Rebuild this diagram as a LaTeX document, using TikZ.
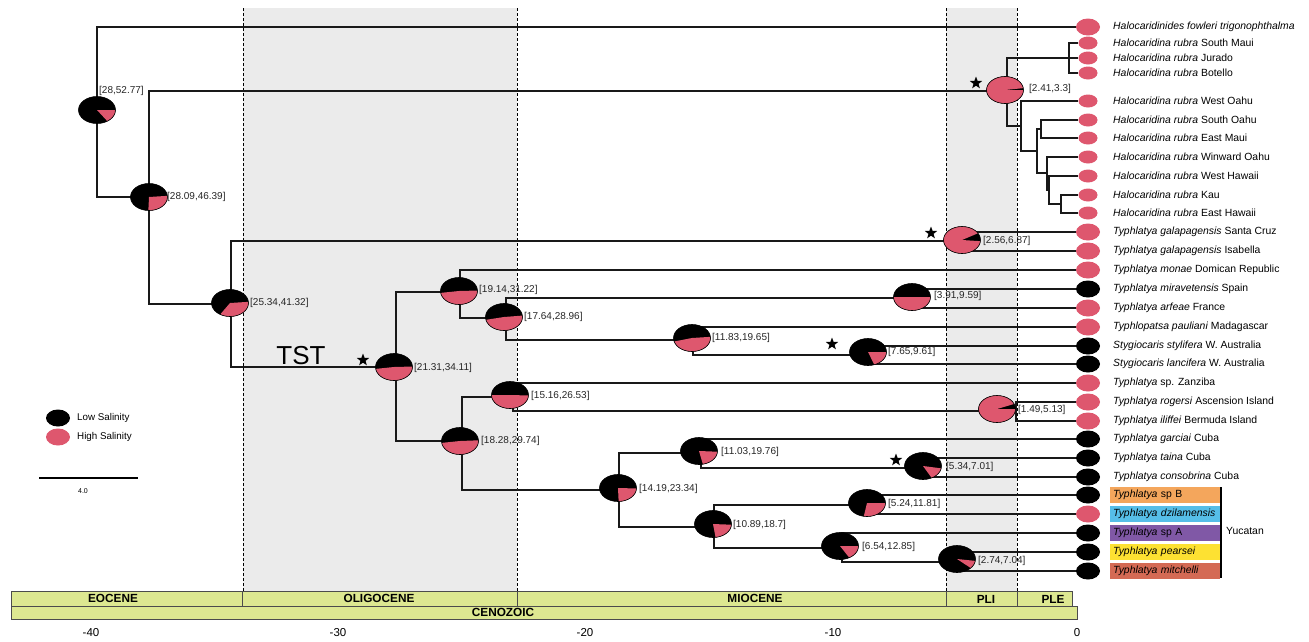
\documentclass[tikz,border=0pt]{standalone}
\usepackage{fontspec}
\setmainfont{Liberation Sans}
\usetikzlibrary{shapes.geometric}
\definecolor{hpink}{RGB}{222,87,110}
\definecolor{bandgray}{RGB}{235,235,235}
\definecolor{baryellow}{RGB}{221,232,145}
\definecolor{colspB}{RGB}{244,166,92}
\definecolor{coldzil}{RGB}{86,190,232}
\definecolor{colspA}{RGB}{128,88,166}
\definecolor{colpear}{RGB}{253,225,50}
\definecolor{colmitch}{RGB}{212,106,84}
\tikzset{
  edge/.style={line width=1.3pt, draw=black!90},
  tipP/.style={ellipse, fill=hpink, minimum width=24pt, minimum height=17pt, inner sep=0pt},
  tipB/.style={ellipse, fill=black, minimum width=24pt, minimum height=17pt, inner sep=0pt},
  tipS/.style={ellipse, fill=hpink, minimum width=19pt, minimum height=13pt, inner sep=0pt},
  tiplab/.style={anchor=west, inner sep=0pt, font=\fontsize{10.4}{12}\selectfont},
  ybox/.style={tiplab, text width=104pt, inner xsep=3pt, inner ysep=0pt, minimum height=15.5pt, align=left},
  nlab/.style={anchor=west, inner sep=0pt, font=\fontsize{10}{12}\selectfont, text=black!85},
  starmark/.style={star, star points=5, star point ratio=2.4, fill=black, inner sep=0pt, minimum size=13pt},
  boundary/.style={dash pattern=on 3pt off 2pt, line width=0.6pt},
  epoch/.style={draw=black!70, fill=baryellow, line width=0.7pt},
  epochtxt/.style={font=\fontsize{11.8}{13}\selectfont\bfseries, inner sep=0pt},
  axlab/.style={font=\fontsize{11.5}{13}\selectfont, inner sep=0pt},
  leglab/.style={anchor=west, inner sep=0pt, font=\fontsize{9.8}{12}\selectfont}
}
\newcommand\salpie[4]{%
  \fill[black] (#1,#2) ellipse [x radius=18.5, y radius=13.5];
  \fill[hpink] (#1,#2) -- ++({-(#3)}:18.5 and 13.5) arc [start angle={-(#3)}, end angle={-(#4)}, x radius=18.5, y radius=13.5] -- cycle;
  \draw[line width=0.6pt] (#1,#2) ellipse [x radius=18.5, y radius=13.5];
}
\begin{document}
\begin{tikzpicture}[x=1pt, y=-1pt]
\useasboundingbox (0,0) rectangle (1309,641);
% bands
\fill[bandgray] (243,8) rectangle (517,591);
\fill[bandgray] (946,8) rectangle (1017,591);
\foreach \bx in {243,517,946,1017} \draw[boundary] (\bx,8) -- (\bx,591);
% time scale
\draw[epoch] (11,591) rectangle (242,606);
\draw[epoch] (242,591) rectangle (517,606);
\draw[epoch] (517,591) rectangle (946,606);
\draw[epoch] (946,591) rectangle (1017,606);
\draw[epoch] (1017,591) rectangle (1072,606);
\draw[epoch] (11,606) rectangle (1077,619);
\node[epochtxt] (eoc) at (113,598.5) {EOCENE};
\node[epochtxt] (oli) at (379,598.5) {OLIGOCENE};
\node[epochtxt] (mio) at (755,598.5) {MIOCENE};
\node[epochtxt] (pli) at (986,599) {PLI};
\node[epochtxt] (ple) at (1053,599) {PLE};
\node[epochtxt] (cen) at (503,612.5) {CENOZOIC};
\node[axlab] (a40) at (91,633) {-40};
\node[axlab] (a30) at (338,633) {-30};
\node[axlab] (a20) at (585,633) {-20};
\node[axlab] (a10) at (833,633) {-10};
\node[axlab] (a0) at (1077,633) {0};
% tips
\node[tipP] (t1) at (1088,27) {};
\node[tipS] (t2) at (1088,43) {};
\node[tipS] (t3) at (1088,58) {};
\node[tipS] (t4) at (1088,73) {};
\node[tipS] (t5) at (1088,101) {};
\node[tipS] (t6) at (1088,120) {};
\node[tipS] (t7) at (1088,138) {};
\node[tipS] (t8) at (1088,157) {};
\node[tipS] (t9) at (1088,176) {};
\node[tipS] (t10) at (1088,195) {};
\node[tipS] (t11) at (1088,213) {};
\node[tipP] (t12) at (1088,232) {};
\node[tipP] (t13) at (1088,251) {};
\node[tipP] (t14) at (1088,270) {};
\node[tipB] (t15) at (1088,289) {};
\node[tipP] (t16) at (1088,308) {};
\node[tipP] (t17) at (1088,327) {};
\node[tipB] (t18) at (1088,346) {};
\node[tipB] (t19) at (1088,364) {};
\node[tipP] (t20) at (1088,383) {};
\node[tipP] (t21) at (1088,402) {};
\node[tipP] (t22) at (1088,421) {};
\node[tipB] (t23) at (1088,439) {};
\node[tipB] (t24) at (1088,458) {};
\node[tipB] (t25) at (1088,477) {};
\node[tipB] (t26) at (1088,495) {};
\node[tipP] (t27) at (1088,514) {};
\node[tipB] (t28) at (1088,533) {};
\node[tipB] (t29) at (1088,552) {};
\node[tipB] (t30) at (1088,571) {};
% internal joints
\coordinate (root) at (97,110);
\coordinate (n2) at (149,197);
\coordinate (n3) at (231,304);
\coordinate (gal) at (962,241);
\coordinate (n4) at (396,367);
\coordinate (n5) at (460,292);
\coordinate (n6) at (506,318);
\coordinate (n7) at (912,298);
\coordinate (n8) at (693,340);
\coordinate (n9) at (868,355);
\coordinate (n10) at (462,441);
\coordinate (n11) at (513,397);
\coordinate (n13) at (1016,411);
\coordinate (n12) at (619,490);
\coordinate (n14) at (701,453);
\coordinate (n16) at (923,468);
\coordinate (n15) at (714,527);
\coordinate (n17) at (867,505);
\coordinate (n18) at (842,548);
\coordinate (n19) at (957,562);
\coordinate (h0) at (1007,91);
\coordinate (hA) at (1069,58);
\coordinate (hB) at (1021,126);
\coordinate (hC) at (1037,151);
\coordinate (hD) at (1041,129);
\coordinate (hE) at (1047,173);
\coordinate (hF) at (1049,190);
\coordinate (hG) at (1061,204);
% edges
\draw[edge] (root) |- (t1.west);
\draw[edge] (root) |- (n2);
\draw[edge] (n2) |- (h0);
\draw[edge] (n2) |- (n3);
\draw[edge] (h0) |- (hA);
\draw[edge] (h0) |- (hB);
\draw[edge] (hA) |- (t2.west);
\draw[edge] (hA) |- (t3.west);
\draw[edge] (hA) |- (t4.west);
\draw[edge] (hB) |- (t5.west);
\draw[edge] (hB) |- (hC);
\draw[edge] (hC) |- (hD);
\draw[edge] (hC) |- (hE);
\draw[edge] (hD) |- (t6.west);
\draw[edge] (hD) |- (t7.west);
\draw[edge] (hE) |- (t8.west);
\draw[edge] (hE) |- (hF);
\draw[edge] (hF) |- (t9.west);
\draw[edge] (hF) |- (hG);
\draw[edge] (hG) |- (t10.west);
\draw[edge] (hG) |- (t11.west);
\draw[edge] (n3) |- (gal);
\draw[edge] (n3) |- (n4);
\draw[edge] (gal) |- (t12.west);
\draw[edge] (gal) |- (t13.west);
\draw[edge] (n4) |- (n5);
\draw[edge] (n4) |- (n10);
\draw[edge] (n5) |- (t14.west);
\draw[edge] (n5) |- (n6);
\draw[edge] (n6) |- (n7);
\draw[edge] (n6) |- (n8);
\draw[edge] (n7) |- (t15.west);
\draw[edge] (n7) |- (t16.west);
\draw[edge] (n8) |- (t17.west);
\draw[edge] (n8) |- (n9);
\draw[edge] (n9) |- (t18.west);
\draw[edge] (n9) |- (t19.west);
\draw[edge] (n10) |- (n11);
\draw[edge] (n10) |- (n12);
\draw[edge] (n11) |- (t20.west);
\draw[edge] (n11) |- (n13);
\draw[edge] (n13) |- (t21.west);
\draw[edge] (n13) |- (t22.west);
\draw[edge] (n12) |- (n14);
\draw[edge] (n12) |- (n15);
\draw[edge] (n14) |- (t23.west);
\draw[edge] (n14) |- (n16);
\draw[edge] (n16) |- (t24.west);
\draw[edge] (n16) |- (t25.west);
\draw[edge] (n15) |- (n17);
\draw[edge] (n15) |- (n18);
\draw[edge] (n17) |- (t26.west);
\draw[edge] (n17) |- (t27.west);
\draw[edge] (n18) |- (t28.west);
\draw[edge] (n18) |- (n19);
\draw[edge] (n19) |- (t29.west);
\draw[edge] (n19) |- (t30.west);
% pies
\salpie{97}{110}{0}{-56}
\salpie{149}{197}{5}{-92}
\salpie{230}{303}{5}{-122}
\salpie{394}{367}{2}{-172}
\salpie{459}{291}{2}{-172}
\salpie{504}{317}{6}{-168}
\salpie{912}{297}{0}{-180}
\salpie{692}{338}{5}{-165}
\salpie{868}{352}{0}{-70}
\salpie{460}{441}{3}{-172}
\salpie{510}{395}{-2}{-180}
\salpie{618}{488}{-2}{-88}
\salpie{997}{409}{0}{-338}
\salpie{699}{451}{-3}{-78}
\salpie{713}{524}{-3}{-82}
\salpie{923}{466}{-10}{-62}
\salpie{867}{503}{0}{-100}
\salpie{840}{546}{0}{-60}
\salpie{957}{559}{-8}{-42}
\salpie{1005}{90}{0}{-352}
\salpie{962}{240}{-5}{-330}
% node labels
\node[nlab] (L1) at (99,91) {[28,52.77]};
\node[nlab] (L2) at (167,197) {[28.09,46.39]};
\node[nlab] (L3) at (250,303) {[25.34,41.32]};
\node[nlab] (L4) at (414,368) {[21.31,34.11]};
\node[nlab] (L5) at (479,290) {[19.14,31.22]};
\node[nlab] (L6) at (524,317) {[17.64,28.96]};
\node[nlab] (L7) at (934,296) {[3.91,9.59]};
\node[nlab] (L8) at (712,338) {[11.83,19.65]};
\node[nlab] (L9) at (888,352) {[7.65,9.61]};
\node[nlab] (L10) at (481,441) {[18.28,29.74]};
\node[nlab] (L11) at (531,396) {[15.16,26.53]};
\node[nlab] (L12) at (639,489) {[14.19,23.34]};
\node[nlab] (L13) at (1018,410) {[1.49,5.13]};
\node[nlab] (L14) at (721,452) {[11.03,19.76]};
\node[nlab] (L15) at (733,525) {[10.89,18.7]};
\node[nlab] (L16) at (946,467) {[5.34,7.01]};
\node[nlab] (L17) at (888,504) {[5.24,11.81]};
\node[nlab] (L18) at (862,547) {[6.54,12.85]};
\node[nlab] (L19) at (978,561) {[2.74,7.04]};
\node[nlab] (LH) at (1029,89) {[2.41,3.3]};
\node[nlab] (LG) at (983,241) {[2.56,6.87]};
% stars
\node[starmark] (s1) at (976,83) {};
\node[starmark] (s2) at (931,233) {};
\node[starmark] (s3) at (363,360) {};
\node[starmark] (s4) at (832,344) {};
\node[starmark] (s5) at (896,460) {};
\node[font=\fontsize{26}{30}\selectfont, inner sep=0pt] (tst) at (301,356) {TST};
% tip labels
\node[tiplab] (l1) at (1113,27) {\textit{Halocaridinides fowleri trigonophthalma}};
\node[tiplab] (l2) at (1113,43) {\textit{Halocaridina rubra} South Maui};
\node[tiplab] (l3) at (1113,58) {\textit{Halocaridina rubra} Jurado};
\node[tiplab] (l4) at (1113,73) {\textit{Halocaridina rubra} Botello};
\node[tiplab] (l5) at (1113,101) {\textit{Halocaridina rubra} West Oahu};
\node[tiplab] (l6) at (1113,120) {\textit{Halocaridina rubra} South Oahu};
\node[tiplab] (l7) at (1113,138) {\textit{Halocaridina rubra} East Maui};
\node[tiplab] (l8) at (1113,157) {\textit{Halocaridina rubra} Winward Oahu};
\node[tiplab] (l9) at (1113,176) {\textit{Halocaridina rubra} West Hawaii};
\node[tiplab] (l10) at (1113,195) {\textit{Halocaridina rubra} Kau};
\node[tiplab] (l11) at (1113,213) {\textit{Halocaridina rubra} East Hawaii};
\node[tiplab] (l12) at (1113,232) {\textit{Typhlatya galapagensis} Santa Cruz};
\node[tiplab] (l13) at (1113,251) {\textit{Typhlatya galapagensis} Isabella};
\node[tiplab] (l14) at (1113,270) {\textit{Typhlatya monae} Domican Republic};
\node[tiplab] (l15) at (1113,289) {\textit{Typhlatya miravetensis} Spain};
\node[tiplab] (l16) at (1113,308) {\textit{Typhlatya arfeae} France};
\node[tiplab] (l17) at (1113,327) {\textit{Typhlopatsa pauliani} Madagascar};
\node[tiplab] (l18) at (1113,346) {\textit{Stygiocaris stylifera} W. Australia};
\node[tiplab] (l19) at (1113,364) {\textit{Stygiocaris lancifera} W. Australia};
\node[tiplab] (l20) at (1113,383) {\textit{Typhlatya} sp. Zanziba};
\node[tiplab] (l21) at (1113,402) {\textit{Typhlatya rogersi} Ascension Island};
\node[tiplab] (l22) at (1113,421) {\textit{Typhlatya iliffei} Bermuda Island};
\node[tiplab] (l23) at (1113,439) {\textit{Typhlatya garciai} Cuba};
\node[tiplab] (l24) at (1113,458) {\textit{Typhlatya taina} Cuba};
\node[tiplab] (l25) at (1113,477) {\textit{Typhlatya consobrina} Cuba};
\node[ybox, fill=colspB] (l26) at (1110,495) {\textit{Typhlatya} sp B};
\node[ybox, fill=coldzil] (l27) at (1110,514) {\textit{Typhlatya dzilamensis}};
\node[ybox, fill=colspA] (l28) at (1110,533) {\textit{Typhlatya} sp A};
\node[ybox, fill=colpear] (l29) at (1110,552) {\textit{Typhlatya pearsei}};
\node[ybox, fill=colmitch] (l30) at (1110,571) {\textit{Typhlatya mitchelli}};
\coordinate (ytop) at (1221,487);
\coordinate (ybot) at (1221,578);
\draw[line width=1.4pt] (ytop) -- (ybot);
\node[tiplab] (yuc) at (1226,531) {Yucatan};
% legend
\node[tipB] (lg1) at (58,418) {};
\node[tipP] (lg2) at (58,437) {};
\node[leglab] (lgt1) at (77,418) {Low Salinity};
\node[leglab] (lgt2) at (77,437) {High Salinity};
\coordinate (sb1) at (39,478);
\coordinate (sb2) at (138,478);
\draw[line width=1.3pt] (sb1) -- (sb2);
\node[font=\fontsize{7}{8}\selectfont, inner sep=0pt] (sbl) at (83,491) {4.0};
\end{tikzpicture}
\end{document}
